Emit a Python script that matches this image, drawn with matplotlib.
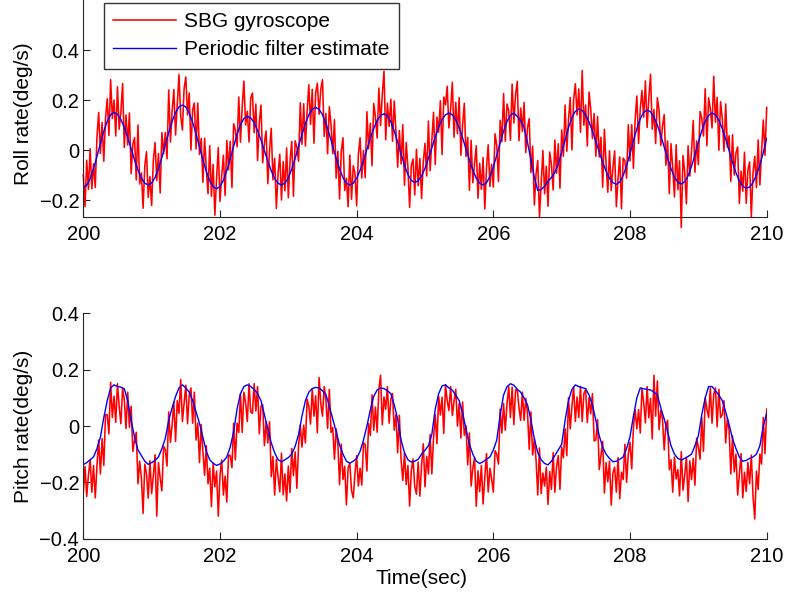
import numpy as np
import matplotlib
matplotlib.use("Agg")
import matplotlib.pyplot as plt

plt.rcParams['font.family'] = ['Liberation Sans', 'DejaVu Sans']

# ---------------- data ----------------
t_start, t_end = 200.0, 210.0

roll_filter = [
    -0.15, -0.141, -0.115, -0.075, -0.026, 0.026, 0.075, 0.115, 0.141, 0.15,
    0.143, 0.122, 0.090, 0.050, 0.005, -0.040, -0.080, -0.112, -0.133, -0.14,
    -0.132, -0.110, -0.074, -0.030, 0.02, 0.070, 0.114, 0.150, 0.172, 0.18,
    0.172, 0.148, 0.111, 0.064, 0.012, -0.039, -0.086, -0.123, -0.147, -0.155,
    -0.146, -0.121, -0.082, -0.035, 0.015, 0.063, 0.101, 0.126, 0.135,
    0.128, 0.109, 0.078, 0.040, -0.003, -0.045, -0.083, -0.114, -0.133, -0.14,
    -0.133, -0.111, -0.076, -0.033, 0.015, 0.063, 0.106, 0.141, 0.163, 0.17,
    0.163, 0.141, 0.106, 0.063, 0.015, -0.033, -0.076, -0.111, -0.133, -0.14,
    -0.133, -0.113, -0.081, -0.042, 0.003, 0.047, 0.086, 0.118, 0.138, 0.145,
    0.137, 0.113, 0.076, 0.031, -0.016, -0.061, -0.098, -0.122, -0.13,
    -0.123, -0.104, -0.073, -0.034, 0.009, 0.052, 0.091, 0.122, 0.141, 0.148,
    0.141, 0.121, 0.089, 0.049, 0.004, -0.041, -0.081, -0.113, -0.133, -0.14,
    -0.131, -0.106, -0.068, -0.021, 0.029, 0.076, 0.114, 0.139, 0.148,
    0.135, 0.118, 0.09, 0.03, -0.04, -0.11, -0.162,
    -0.158, -0.145, -0.125, -0.11, -0.09, -0.055, -0.01, 0.04, 0.09, 0.13, 0.155, 0.164,
    0.158, 0.140, 0.112, 0.076, 0.035, -0.008, -0.049, -0.085, -0.113, -0.131, -0.137,
    -0.128, -0.102, -0.063, -0.014, 0.037, 0.086, 0.125, 0.151, 0.16,
    0.153, 0.132, 0.099, 0.058, 0.012, -0.034, -0.075, -0.108, -0.129, -0.136,
    -0.127, -0.103, -0.065, -0.019, 0.031, 0.077, 0.115, 0.139, 0.148,
    0.141, 0.119, 0.086, 0.044, -0.003, -0.049, -0.091, -0.124, -0.145, -0.153,
    -0.148, -0.13, -0.10, -0.06, -0.01, 0.047,
]

roll_gyro = [
    -0.10, -0.226, -0.041, -0.158, 0.005, -0.155, -0.055, -0.15, 0.054, 0.15, -0.014, 0.11, -0.045, 0.125, 0.205, 0.058, 0.281, 0.126, 0.20, 0.056,
    0.253, 0.083, 0.152, 0.266, 0.01, 0.14, 0.02, 0.148, -0.095, 0.022, 0.05, -0.12, 0.10, -0.136, -0.092, -0.233, -0.063, -0.007, -0.19, -0.106,
    -0.222, -0.041, 0.03, -0.122, -0.014, -0.172, 0.07, -0.015, 0.07, -0.035, 0.24, 0.032, 0.154, 0.242, 0.06, 0.181, 0.302, 0.136, 0.08, 0.246,
    0.292, 0.14, 0.228, 0.0, 0.161, 0.188, 0.004, 0.188, -0.018, 0.046, -0.129, 0.047, -0.076, -0.175, 0.017, -0.185, -0.057, -0.261, -0.115, 0.01,
    -0.206, -0.104, -0.021, -0.182, 0.038, -0.079, 0.035, -0.15, 0.105, 0.079, 0.013, 0.212, 0.031, 0.174, 0.276, 0.10, 0.155, 0.032, 0.208, 0.228,
    0.069, 0.184, -0.042, 0.109, 0.18, -0.051, 0.027, 0.076, -0.135, -0.004, 0.087, -0.119, -0.034, -0.234, -0.093, -0.017, -0.20, -0.047, -0.163, 0.008,
    -0.191, -0.044, 0.034, -0.185, 0.037, 0.011, -0.045, 0.189, 0.023, 0.185, 0.016, 0.154, 0.261, 0.102, 0.243, 0.027, 0.23, 0.267, 0.143, 0.242,
    0.281, 0.054, 0.146, -0.015, 0.173, 0.099, -0.015, 0.121, -0.113, -0.005, -0.196, -0.004, 0.049, -0.162, -0.113, -0.227, -0.02, -0.197, -0.063, -0.093,
    -0.223, -0.017, 0.049, -0.112, -0.002, -0.11, 0.153, 0.005, 0.107, -0.063, 0.186, 0.132, 0.048, 0.248, 0.098, 0.222, 0.315, 0.041, 0.187, 0.095,
    0.203, 0.035, 0.196, 0.074, -0.069, 0.078, -0.056, 0.101, -0.141, 0.03, -0.068, -0.23, -0.062, -0.036, -0.18, 0.003, -0.143, -0.034, -0.194, -0.049,
    0.027, -0.104, 0.116, -0.083, 0.039, 0.151, -0.058, 0.132, 0.071, 0.197, -0.018, 0.212, 0.181, 0.255, 0.088, 0.165, 0.271, 0.051, 0.191, 0.065,
    0.209, -0.021, 0.099, 0.187, -0.026, 0.051, -0.161, 0.039, -0.131, -0.057, 0.017, -0.193, -0.053, -0.157, -0.03, -0.236, -0.071, 0.021, -0.146, -0.057,
    -0.148, 0.065, 0.019, -0.126, 0.119, 0.033, 0.226, 0.035, 0.184, 0.157, 0.039, 0.264, 0.108, 0.222, 0.275, 0.037, 0.168, 0.074, 0.19, -0.01,
    0.09, 0.125, -0.09, 0.015, -0.22, -0.096, -0.042, -0.27, -0.138, -0.002, -0.175, -0.065, -0.225, -0.008, -0.06, -0.16, 0.04, -0.093, 0.025, -0.153,
    0.08, -0.025, 0.18, -0.005, 0.12, 0.21, 0.0, 0.203, 0.265, 0.14, 0.244, 0.071, 0.318, 0.099, 0.18, 0.016, 0.232, 0.164, 0.046, 0.146,
    -0.025, 0.134, -0.028, 0.051, -0.149, 0.083, -0.055, -0.169, -0.003, -0.162, -0.071, -0.004, -0.227, -0.113, -0.028, -0.235, -0.032, -0.043, -0.113, 0.101,
    -0.044, 0.102, -0.073, 0.122, 0.216, 0.026, 0.165, 0.238, 0.131, 0.276, 0.09, 0.207, 0.303, 0.083, 0.162, 0.026, 0.209, 0.159, 0.018, 0.095,
    0.142, -0.061, 0.036, -0.175, 0.025, -0.072, -0.188, 0.021, -0.159, -0.043, -0.31, -0.022, -0.087, -0.215, 0.017, -0.104, -0.005, 0.118, -0.089, 0.036,
    -0.059, 0.154, 0.127, 0.056, 0.245, 0.017, 0.209, 0.164, 0.088, 0.295, 0.111, 0.21, -0.001, 0.193, 0.126, -0.005, 0.184, 0.011, 0.057, -0.126,
    0.061, -0.10, -0.011, 0.012, -0.214, -0.085, -0.165, -0.009, -0.213, -0.08, -0.048, -0.269, -0.09, -0.025, -0.15, 0.04, -0.14, -0.005, 0.12, -0.021,
    0.17,
]

pitch_filter = [
    -0.137, -0.13, -0.12, -0.11, -0.08, -0.04, 0.03, 0.09, 0.135, 0.146,
    0.14, 0.138, 0.132, 0.09, 0.02, -0.04, -0.085, -0.105, -0.125, -0.136,
    -0.13, -0.122, -0.11, -0.08, -0.044, 0.02, 0.065, 0.105, 0.135, 0.146,
    0.135, 0.12, 0.09, 0.05, 0.01, -0.04, -0.09, -0.12, -0.132, -0.14,
    -0.135, -0.125, -0.11, -0.075, -0.02, 0.06, 0.115, 0.14, 0.146, 0.14,
    0.13, 0.115, 0.09, 0.04, -0.01, -0.06, -0.095, -0.12, -0.127, -0.12,
    -0.112, -0.1, -0.072, -0.03, 0.035, 0.09, 0.12, 0.133, 0.137, 0.135,
    0.125, 0.112, 0.07, 0.025, -0.02, -0.068, -0.1, -0.125, -0.132, -0.125,
    -0.115, -0.09, -0.05, 0.0, 0.057, 0.105, 0.128, 0.135, 0.133, 0.125,
    0.115, 0.075, 0.025, -0.05, -0.095, -0.12, -0.128, -0.125, -0.118, -0.1,
    -0.086, -0.07, -0.03, 0.06, 0.115, 0.142, 0.146, 0.135, 0.127, 0.11,
    0.09, 0.045, -0.01, -0.065, -0.1, -0.125, -0.133, -0.127, -0.118, -0.11,
    -0.085, -0.05, 0.04, 0.11, 0.14, 0.15, 0.145, 0.13, 0.12, 0.1,
    0.075, 0.02, -0.045, -0.095, -0.12, -0.133, -0.138, -0.125, -0.105, -0.085,
    -0.065, 0.02, 0.09, 0.13, 0.146, 0.14, 0.136, 0.133, 0.11, 0.075,
    0.02, -0.035, -0.075, -0.1, -0.115, -0.127, -0.125, -0.118, -0.11, -0.08,
    -0.038, 0.035, 0.1, 0.135, 0.132, 0.13, 0.128, 0.12, 0.11, 0.065,
    0.025, -0.02, -0.07, -0.1, -0.115, -0.121, -0.115, -0.108, -0.1, -0.07,
    -0.035, 0.04, 0.1, 0.14, 0.14, 0.125, 0.11, 0.09, 0.05, 0.005,
    -0.045, -0.08, -0.11, -0.125, -0.122, -0.115, -0.11, -0.1, -0.07, 0.0,
    0.045,
]

pitch_gyro = [
    -0.237, -0.144, -0.25, -0.175, -0.12, -0.235, -0.14, -0.255, -0.14, -0.05, -0.17, -0.045, -0.14, 0.04, 0.04, -0.028, 0.155, 0.03, 0.106, 0.013,
    0.15, 0.069, 0.008, 0.135, 0.092, -0.009, 0.12, -0.005, 0.07, -0.09, -0.05, -0.022, -0.205, -0.125, -0.185, -0.31, -0.135, -0.17, -0.256, -0.123,
    -0.24, -0.176, -0.102, -0.32, -0.13, -0.185, -0.23, -0.072, -0.084, -0.142, 0.05, -0.058, 0.005, 0.085, -0.055, 0.09, 0.045, 0.165, 0.016, 0.08,
    0.145, 0.008, 0.11, 0.135, 0.01, 0.12, -0.05, 0.01, -0.13, 0.005, -0.09, -0.175, -0.07, -0.205, -0.15, -0.286, -0.132, -0.216, -0.16, -0.32,
    -0.175, -0.12, -0.245, -0.178, -0.27, -0.103, -0.105, -0.148, 0.01, -0.12, 0.01, -0.023, 0.115, -0.023, 0.12, 0.083, 0.016, 0.15, 0.05, 0.045,
    0.15, 0.053, 0.14, -0.028, 0.07, 0.075, -0.07, 0.015, -0.06, 0.015, -0.18, -0.108, -0.245, -0.118, -0.18, -0.234, -0.097, -0.244, -0.17, -0.266,
    -0.142, -0.236, -0.08, -0.176, -0.092, -0.221, -0.07, 0.003, -0.075, 0.003, -0.06, 0.095, 0.07, 0.007, 0.13, 0.035, 0.107, -0.024, 0.172, 0.08,
    0.035, 0.14, 0.092, -0.009, 0.13, -0.023, -0.005, -0.118, -0.01, -0.064, -0.208, -0.064, -0.19, -0.143, -0.28, -0.149, -0.132, -0.229, -0.255, -0.17,
    -0.105, -0.213, -0.15, -0.21, -0.06, -0.065, -0.16, 0.009, -0.033, 0.111, -0.015, 0.067, -0.022, 0.132, 0.18, 0.004, 0.103, 0.059, 0.14, 0.01,
    0.095, 0.115, -0.015, 0.04, -0.095, 0.038, -0.12, -0.193, -0.095, -0.208, -0.14, -0.284, -0.158, -0.117, -0.215, -0.242, -0.128, -0.249, -0.14, -0.063,
    -0.216, -0.108, -0.17, -0.03, -0.17, -0.045, 0.04, -0.063, 0.105, 0.039, 0.102, -0.026, 0.146, 0.09, 0.055, 0.14, 0.037, 0.088, 0.13, 0.0,
    0.08, -0.043, 0.085, -0.033, 0.0, -0.138, -0.025, -0.213, -0.15, -0.113, -0.285, -0.159, -0.233, -0.14, -0.277, -0.183, -0.098, -0.234, -0.15, -0.188,
    -0.235, -0.088, -0.10, -0.135, 0.06, -0.025, 0.08, -0.015, 0.08, 0.14, 0.03, 0.138, 0.005, 0.128, 0.13, 0.065, 0.02, 0.12, 0.02, 0.098,
    0.045, -0.083, 0.05, -0.103, -0.045, -0.12, -0.245, -0.078, -0.24, -0.167, -0.213, -0.146, -0.278, -0.162, -0.225, -0.095, -0.235, -0.145, -0.105, -0.225,
    -0.075, -0.113, -0.01, -0.105, 0.10, -0.01, 0.07, 0.138, 0.016, 0.103, 0.03, 0.14, 0.016, 0.115, 0.13, 0.012, 0.10, 0.043, 0.115, -0.053,
    -0.05, 0.023, -0.155, -0.105, -0.055, -0.238, -0.13, -0.198, -0.125, -0.281, -0.167, -0.146, -0.235, -0.112, -0.258, -0.164, -0.19, -0.065, -0.20, -0.099,
    -0.058, -0.152, -0.005, 0.058, -0.01, 0.058, -0.025, 0.134, 0.082, 0.011, 0.14, 0.029, 0.098, -0.046, 0.18, 0.035, 0.16, -0.013, 0.055, 0.025,
    -0.085, 0.003, 0.02, -0.155, -0.12, -0.235, -0.11, -0.188, -0.155, -0.248, -0.091, -0.228, -0.175, -0.112, -0.268, -0.124, -0.19, -0.115, -0.21, -0.043,
    -0.075, -0.118, 0.03, -0.09, 0.10, 0.06, 0.03, 0.135, 0.01, 0.113, 0.135, -0.003, 0.13, 0.03, 0.04, 0.09, -0.06, 0.028, -0.015, -0.17,
    -0.035, -0.163, -0.10, -0.245, -0.17, -0.098, -0.255, -0.164, -0.232, -0.129, -0.205, -0.103, -0.25, -0.33, -0.16, -0.225, -0.10, -0.135, 0.03, -0.098,
    0.06,
]

x_ticks = [200, 202, 204, 206, 208, 210]
roll_yticks = [-0.2, 0, 0.2, 0.4]
roll_yticklabels = ['\u22120.2', '0', '0.2', '0.4']
pitch_yticks = [-0.4, -0.2, 0, 0.2, 0.4]
pitch_yticklabels = ['\u22120.4', '\u22120.2', '0', '0.2', '0.4']
legend_labels = ['SBG gyroscope', 'Periodic filter estimate']

# ---------------- figure ----------------
W, H = 787, 598
fig = plt.figure(figsize=(W / 100, H / 100), dpi=100)


def px_axes(left, top, right, bottom):
    return fig.add_axes([left / W, 1 - bottom / H, (right - left) / W, (bottom - top) / H])


ax1 = px_axes(83.3, 0, 766.7, 217)
ax2 = px_axes(83.3, 313.3, 766.7, 538.7)

t_roll_g = np.linspace(t_start, t_end, len(roll_gyro))
t_roll_f = np.linspace(t_start, t_end, len(roll_filter))
t_pitch_g = np.linspace(t_start, t_end, len(pitch_gyro))
t_pitch_f = np.linspace(t_start, t_end, len(pitch_filter))

l1, = ax1.plot(t_roll_g, roll_gyro, color='#ff0000', lw=1.15, clip_on=False)
l2, = ax1.plot(t_roll_f, roll_filter, color='#0000ff', lw=1.0)
ax2.plot(t_pitch_g, pitch_gyro, color='#ff0000', lw=1.15)
ax2.plot(t_pitch_f, pitch_filter, color='#0000ff', lw=1.0)

ax1.set_ylim(-0.268, 0.6)
ax2.set_ylim(-0.4, 0.4)

for ax in (ax1, ax2):
    ax.set_xlim(t_start, t_end)
    ax.set_xticks(x_ticks)
    ax.set_xticklabels([str(v) for v in x_ticks])
    ax.spines['top'].set_visible(False)
    ax.spines['right'].set_visible(False)
    for s in ('left', 'bottom'):
        ax.spines[s].set_linewidth(0.8)
        ax.spines[s].set_color('#262626')
    ax.tick_params(axis='both', direction='in', length=5, width=0.8,
                   colors='#262626', labelcolor='black', labelsize=14.5)
    ax.tick_params(axis='x', pad=6)
    ax.tick_params(axis='y', pad=3)

ax1.set_yticks(roll_yticks)
ax1.set_yticklabels(roll_yticklabels)
ax2.set_yticks(pitch_yticks)
ax2.set_yticklabels(pitch_yticklabels)

ax1.set_ylabel('Roll rate(deg/s)', fontsize=15)
ax2.set_ylabel('Pitch rate(deg/s)', fontsize=15)
ax1.yaxis.set_label_coords(-0.074, 0.475)
ax2.yaxis.set_label_coords(-0.074, 0.5)
ax2.set_xlabel('Time(sec)', fontsize=15)
ax2.xaxis.set_label_coords(0.495, -0.135)

leg = fig.legend([l1, l2], legend_labels, loc='upper left',
                 bbox_to_anchor=(104 / W, 1 - 3 / H), bbox_transform=fig.transFigure,
                 borderaxespad=0, fontsize=15, frameon=True, fancybox=False,
                 handlelength=3.0, handletextpad=0.4, labelspacing=0.42,
                 borderpad=0.45)
leg.get_frame().set_edgecolor('black')
leg.get_frame().set_linewidth(1.0)

fig.savefig('out.png', dpi=100)
